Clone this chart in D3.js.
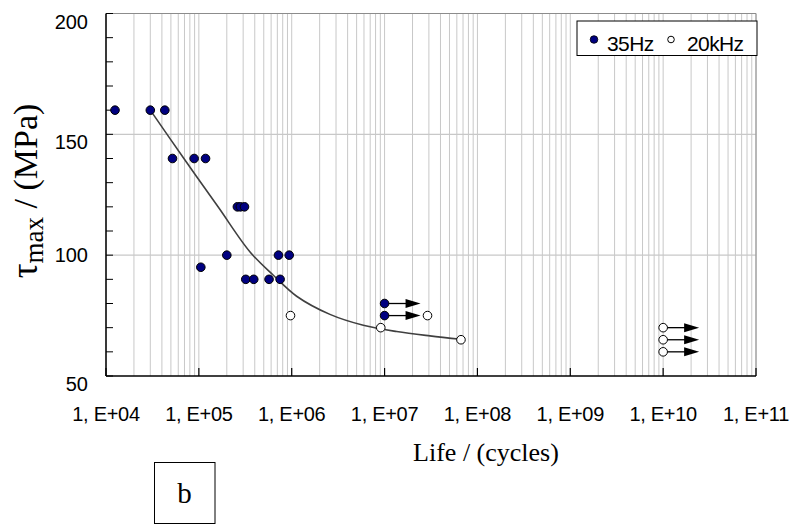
<!DOCTYPE html>
<html>
<head>
<meta charset="utf-8">
<script src="https://cdn.jsdelivr.net/npm/d3@7"></script>
<style>
  html, body { margin: 0; padding: 0; background: #fff; }
  svg { display: block; }
</style>
</head>
<body>
<svg id="chart" width="793" height="524"></svg>
<script>
// ---------- data ----------
const series35Hz = [
  {n: 1.25e4, tau: 160}, {n: 3.0e4, tau: 160}, {n: 4.3e4, tau: 160},
  {n: 5.2e4, tau: 140}, {n: 8.9e4, tau: 140}, {n: 1.18e5, tau: 140},
  {n: 2.6e5, tau: 120}, {n: 2.8e5, tau: 120}, {n: 3.1e5, tau: 120},
  {n: 1.05e5, tau: 95}, {n: 2.0e5, tau: 100},
  {n: 3.2e5, tau: 90}, {n: 3.9e5, tau: 90}, {n: 5.7e5, tau: 90}, {n: 7.5e5, tau: 90},
  {n: 7.2e5, tau: 100}, {n: 9.4e5, tau: 100},
  {n: 1e7, tau: 80, runout: true}, {n: 1e7, tau: 75, runout: true}
];
const series20kHz = [
  {n: 9.7e5, tau: 75}, {n: 9.1e6, tau: 70}, {n: 2.9e7, tau: 75}, {n: 6.65e7, tau: 65},
  {n: 1e10, tau: 70, runout: true}, {n: 1e10, tau: 65, runout: true}, {n: 1e10, tau: 60, runout: true}
];
const fitCurve = [
  {n: 3.0e4, tau: 160}, {n: 6.9e4, tau: 140}, {n: 1.61e5, tau: 120},
  {n: 3.56e5, tau: 101.3}, {n: 6.34e5, tau: 91.7}, {n: 1.13e6, tau: 83.0},
  {n: 2.58e6, tau: 75.5}, {n: 5.9e6, tau: 71.0}, {n: 1.35e7, tau: 68.4},
  {n: 3.08e7, tau: 66.6}, {n: 6.65e7, tau: 65.2}
];
const xTickValues = [1e4, 1e5, 1e6, 1e7, 1e8, 1e9, 1e10, 1e11];
const xTickLabels = ["1, E+04", "1, E+05", "1, E+06", "1, E+07", "1, E+08", "1, E+09", "1, E+10", "1, E+11"];
const yTickValues = [50, 100, 150, 200];
const legendLabels = ["35Hz", "20kHz"];
const xTitle = "Life / (cycles)";
const panelLabel = "b";

// ---------- layout ----------
const L = 106, R = 756, T = 13.5, B = 376;
const svg = d3.select("#chart");
const x = d3.scaleLog().domain([1e4, 1e11]).range([L, R]);
const y = d3.scaleLinear().domain([50, 200]).range([B, T]);
const SANS = "'Liberation Sans', Arial, sans-serif";
const SERIF = "'Liberation Serif', 'Times New Roman', serif";

// vertical gridlines (log minor grid)
svg.append("g").selectAll("line").data(x.ticks()).join("line")
  .attr("x1", d => x(d)).attr("x2", d => x(d))
  .attr("y1", T).attr("y2", B)
  .attr("stroke", "#c8c8c8").attr("stroke-width", 1);
// horizontal gridlines
svg.append("g").selectAll("line").data(yTickValues.filter(v => v > 50)).join("line")
  .attr("x1", L).attr("x2", R)
  .attr("y1", d => y(d)).attr("y2", d => y(d))
  .attr("stroke", "#c8c8c8").attr("stroke-width", 1.2);
// top & right frame
svg.append("path")
  .attr("d", `M${L},${T}H${R}V${B}`)
  .attr("fill", "none").attr("stroke", "#8c8c8c").attr("stroke-width", 1);

// axes lines
svg.append("line").attr("x1", L).attr("x2", L).attr("y1", T).attr("y2", B)
  .attr("stroke", "#000").attr("stroke-width", 1.5);
svg.append("line").attr("x1", L).attr("x2", R).attr("y1", B).attr("y2", B)
  .attr("stroke", "#000").attr("stroke-width", 1.5);

// y minor ticks (inward)
svg.append("g").selectAll("line").data(y.ticks(15)).join("line")
  .attr("x1", L).attr("x2", L + 7)
  .attr("y1", d => y(d)).attr("y2", d => y(d))
  .attr("stroke", "#000").attr("stroke-width", 1);
// x major ticks (inward)
svg.append("g").selectAll("line").data(xTickValues).join("line")
  .attr("x1", d => x(d)).attr("x2", d => x(d))
  .attr("y1", B).attr("y2", B - 8)
  .attr("stroke", "#000").attr("stroke-width", 1.2);

// y tick labels
svg.append("g").selectAll("text").data(yTickValues).join("text")
  .attr("x", 88).attr("y", d => y(d) + (d === 100 ? 7 : 15))
  .attr("text-anchor", "end")
  .attr("font-family", SANS).attr("font-size", 20)
  .text(d => d);
// x tick labels
svg.append("g").selectAll("text").data(xTickValues).join("text")
  .attr("x", d => x(d)).attr("y", 421)
  .attr("text-anchor", "middle")
  .attr("font-family", SANS).attr("font-size", 20).attr("letter-spacing", -0.3)
  .text((d, i) => xTickLabels[i]);

// axis titles
svg.append("text").attr("x", 486).attr("y", 461)
  .attr("text-anchor", "middle")
  .attr("font-family", SERIF).attr("font-size", 26)
  .text(xTitle);

const yt = svg.append("text")
  .attr("transform", "translate(37,191) rotate(-90)")
  .attr("text-anchor", "middle")
  .attr("font-family", SERIF).attr("font-size", 34);
yt.append("tspan").attr("font-size", 37).text("τ");
yt.append("tspan").attr("font-size", 27).attr("dy", 6).text("max");
yt.append("tspan").attr("dy", -6).text(" / (MPa)");

// fitted curve
const line = d3.line().x(d => x(d.n)).y(d => y(d.tau)).curve(d3.curveCatmullRom.alpha(0.5));
svg.append("path").datum(fitCurve)
  .attr("d", line)
  .attr("fill", "none").attr("stroke", "#404040").attr("stroke-width", 1.6);

// run-out arrows
const runouts = series35Hz.concat(series20kHz).filter(d => d.runout);
const ag = svg.append("g");
ag.selectAll("line").data(runouts).join("line")
  .attr("x1", d => x(d.n)).attr("x2", d => x(d.n) + 24)
  .attr("y1", d => y(d.tau)).attr("y2", d => y(d.tau))
  .attr("stroke", "#000").attr("stroke-width", 1.3);
ag.selectAll("path").data(runouts).join("path")
  .attr("d", d => {
    const cx = x(d.n), cy = y(d.tau);
    return `M${cx + 21},${cy - 4.5}L${cx + 36},${cy}L${cx + 21},${cy + 4.5}Z`;
  })
  .attr("fill", "#000");

// markers
svg.append("g").selectAll("circle").data(series35Hz).join("circle")
  .attr("cx", d => x(d.n)).attr("cy", d => y(d.tau)).attr("r", 4.3)
  .attr("fill", "#000080").attr("stroke", "#000").attr("stroke-width", 1);
svg.append("g").selectAll("circle").data(series20kHz).join("circle")
  .attr("cx", d => x(d.n)).attr("cy", d => y(d.tau)).attr("r", 4.3)
  .attr("fill", "#fff").attr("stroke", "#000").attr("stroke-width", 1);

// legend
const lg = svg.append("g");
lg.append("rect").attr("x", 577).attr("y", 21).attr("width", 180).attr("height", 34.5)
  .attr("fill", "#fff").attr("stroke", "#000").attr("stroke-width", 1);
lg.append("circle").attr("cx", 594).attr("cy", 39.5).attr("r", 3.8)
  .attr("fill", "#000080").attr("stroke", "#000").attr("stroke-width", 0.8);
lg.append("text").attr("x", 607).attr("y", 51)
  .attr("font-family", SANS).attr("font-size", 21).attr("letter-spacing", -0.6)
  .text(legendLabels[0]);
lg.append("circle").attr("cx", 671).attr("cy", 39.5).attr("r", 3.3)
  .attr("fill", "#fff").attr("stroke", "#000").attr("stroke-width", 1);
lg.append("text").attr("x", 687).attr("y", 51)
  .attr("font-family", SANS).attr("font-size", 21).attr("letter-spacing", -0.6)
  .text(legendLabels[1]);

// panel label box
svg.append("rect").attr("x", 154.5).attr("y", 462.5).attr("width", 60.5).attr("height", 61)
  .attr("fill", "none").attr("stroke", "#000").attr("stroke-width", 1);
svg.append("text").attr("x", 184.5).attr("y", 503)
  .attr("text-anchor", "middle")
  .attr("font-family", SERIF).attr("font-size", 29)
  .text(panelLabel);
</script>
</body>
</html>
